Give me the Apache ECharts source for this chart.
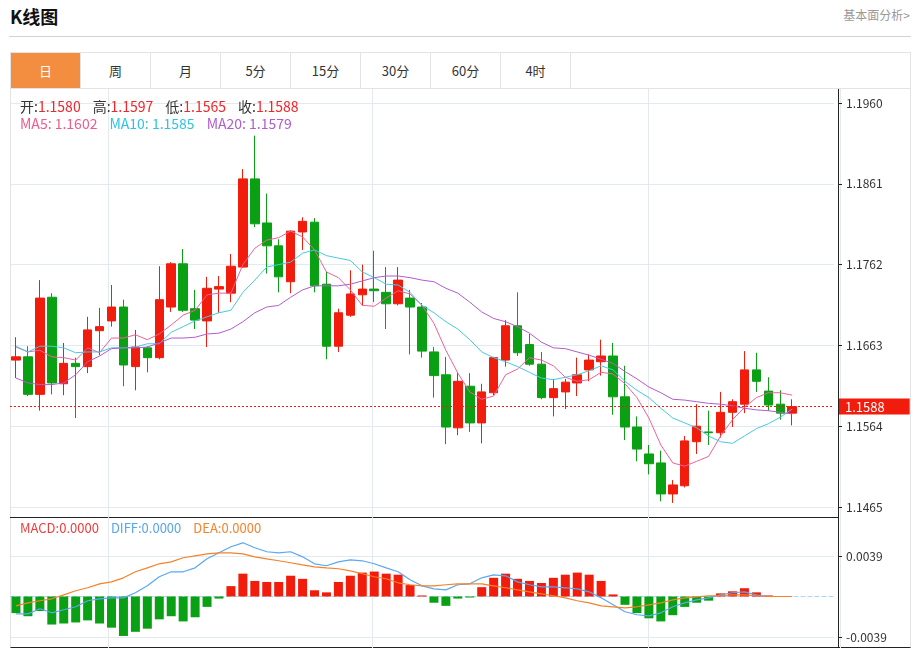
<!DOCTYPE html>
<html>
<head>
<meta charset="utf-8">
<title>K线图</title>
<script src="https://cdn.jsdelivr.net/npm/echarts@6/dist/echarts.min.js"></script>
<style>
body{margin:0;background:#fff;font-family:"Noto Sans CJK SC","Noto Sans",sans-serif;color:#333;}
#page{position:relative;width:913px;height:650px;overflow:hidden;}
.title{position:absolute;left:10px;top:2px;font-size:18px;font-weight:bold;color:#111;line-height:28px;}
.more{position:absolute;right:3px;top:6px;font-size:12px;color:#999;line-height:18px;}
.hr{position:absolute;left:9px;top:36px;width:902px;height:1px;background:#d2d2d2;}
.tabs{position:absolute;left:10px;top:52px;width:899px;height:35px;border:1px solid #e3e3e3;}
.tab{float:left;width:69px;height:35px;line-height:35px;text-align:center;font-size:13px;border-right:1px solid #e3e3e3;}
.tab.on{background:#f38d3f;color:#fff;}
.box{position:absolute;left:10px;top:88px;width:899px;height:559px;border-left:1px solid #e3e3e3;border-right:1px solid #e3e3e3;border-bottom:1px solid #222;}
.sep{position:absolute;left:10px;top:517px;width:828px;height:1px;background:#222;}
.axisline{position:absolute;left:838px;top:89px;width:1px;height:559px;background:#222;}
#chart{position:absolute;left:10px;top:89px;width:901px;height:559px;}
.info{position:absolute;left:20px;font-size:14px;line-height:18px;white-space:nowrap;z-index:5;}
.info span{margin-right:12px;}
#info3{font-size:13px;}
</style>
</head>
<body>
<div id="page">
  <div class="title">K线图</div>
  <div class="more">基本面分析&gt;</div>
  <div class="hr"></div>
  <div class="tabs">
    <div class="tab on">日</div><div class="tab">周</div><div class="tab">月</div><div class="tab">5分</div>
    <div class="tab">15分</div><div class="tab">30分</div><div class="tab">60分</div><div class="tab">4时</div>
  </div>
  <div class="box"></div>
  <div class="sep"></div>
  <div class="axisline"></div>
  <div id="chart"></div>
  <div class="info" id="info1" style="top:97px"></div>
  <div class="info" id="info2" style="top:114px"></div>
  <div class="info" id="info3" style="top:519px"></div>
</div>
<script>
var slotCount = 69;          // 66 bars + 3 empty slots on the right
var monthStarts = [8, 30, 53];

var opens  = [1.1645,1.1649,1.1603,1.1722,1.1616,1.1641,1.1637,1.1681,1.1693,1.1710,1.1637,1.1660,1.1648,1.1710,1.1763,1.1708,1.1693,1.1732,1.1727,1.1759,1.1867,1.1813,1.1785,1.1741,1.1802,1.1814,1.1738,1.1662,1.1700,1.1725,1.1732,1.1728,1.1714,1.1721,1.1710,1.1655,1.1627,1.1562,1.1613,1.1568,1.1605,1.1645,1.1687,1.1664,1.1640,1.1599,1.1606,1.1617,1.1633,1.1643,1.1650,1.1600,1.1563,1.1530,1.1519,1.1481,1.1491,1.1545,1.1557,1.1556,1.1581,1.1591,1.1633,1.1607,1.1591,1.1580];
var closes = [1.1649,1.1603,1.1721,1.1617,1.1641,1.1637,1.1682,1.1686,1.1710,1.1639,1.1661,1.1648,1.1719,1.1763,1.1706,1.1694,1.1733,1.1735,1.1760,1.1867,1.1812,1.1785,1.1747,1.1803,1.1815,1.1736,1.1662,1.1703,1.1726,1.1732,1.1730,1.1714,1.1743,1.1710,1.1656,1.1626,1.1563,1.1619,1.1568,1.1606,1.1648,1.1687,1.1654,1.1640,1.1599,1.1610,1.1618,1.1627,1.1645,1.1650,1.1600,1.1563,1.1536,1.1518,1.1481,1.1492,1.1546,1.1564,1.1556,1.1581,1.1594,1.1633,1.1619,1.1590,1.1580,1.1588];
var lows   = [1.1623,1.1601,1.1583,1.1603,1.1602,1.1574,1.1629,1.1651,1.1686,1.1613,1.1608,1.1630,1.1646,1.1704,1.1704,1.1683,1.1661,1.1703,1.1716,1.1758,1.1808,1.1751,1.1728,1.1727,1.1780,1.1728,1.1646,1.1655,1.1698,1.1712,1.1716,1.1683,1.1712,1.1652,1.1648,1.1599,1.1542,1.1553,1.1557,1.1543,1.1602,1.1637,1.1650,1.1638,1.1597,1.1576,1.1585,1.1601,1.1619,1.1626,1.1578,1.1547,1.1521,1.1505,1.1472,1.1470,1.1489,1.1530,1.1541,1.1550,1.1563,1.1580,1.1606,1.1583,1.1572,1.1565];
var highs  = [1.1673,1.1662,1.1743,1.1727,1.1666,1.1648,1.1698,1.1709,1.1737,1.1719,1.1682,1.1662,1.1760,1.1765,1.1781,1.1731,1.1747,1.1748,1.1775,1.1879,1.1920,1.1849,1.1793,1.1804,1.1820,1.1819,1.1753,1.1708,1.1755,1.1762,1.1779,1.1759,1.1759,1.1731,1.1715,1.1661,1.1649,1.1630,1.1629,1.1616,1.1649,1.1694,1.1728,1.1677,1.1655,1.1622,1.1622,1.1648,1.1652,1.1670,1.1666,1.1638,1.1576,1.1541,1.1534,1.1498,1.1552,1.1591,1.1583,1.1606,1.1597,1.1656,1.1654,1.1624,1.1608,1.1597];

var ma5  = [1.1661,1.1655,1.1657,1.1649,1.1648,1.1645,1.1660,1.1654,1.1672,1.1672,1.1676,1.1670,1.1677,1.1688,1.1700,1.1706,1.1725,1.1727,1.1727,1.1762,1.1782,1.1792,1.1795,1.1803,1.1796,1.1780,1.1753,1.1746,1.1731,1.1712,1.1711,1.1721,1.1730,1.1726,1.1712,1.1690,1.1657,1.1629,1.1606,1.1597,1.1601,1.1627,1.1634,1.1648,1.1645,1.1638,1.1624,1.1619,1.1621,1.1630,1.1628,1.1616,1.1599,1.1574,1.1541,1.1519,1.1515,1.1521,1.1527,1.1552,1.1572,1.1587,1.1599,1.1605,1.1605,1.1602];
var ma10 = [1.1662,1.1655,1.1662,1.1662,1.1660,1.1654,1.1655,1.1655,1.1660,1.1660,1.1661,1.1665,1.1665,1.1679,1.1686,1.1693,1.1698,1.1703,1.1706,1.1728,1.1743,1.1759,1.1762,1.1765,1.1776,1.1780,1.1773,1.1770,1.1767,1.1753,1.1746,1.1738,1.1737,1.1728,1.1712,1.1703,1.1692,1.1683,1.1670,1.1655,1.1648,1.1643,1.1637,1.1630,1.1623,1.1621,1.1624,1.1627,1.1632,1.1638,1.1633,1.1619,1.1608,1.1599,1.1586,1.1574,1.1568,1.1562,1.1552,1.1545,1.1543,1.1552,1.1561,1.1567,1.1575,1.1585];
var ma20 = [1.1623,1.1617,1.1615,1.1615,1.1617,1.1627,1.1643,1.1650,1.1659,1.1660,1.1660,1.1661,1.1666,1.1672,1.1672,1.1673,1.1677,1.1678,1.1683,1.1692,1.1703,1.1710,1.1712,1.1722,1.1731,1.1736,1.1736,1.1736,1.1738,1.1742,1.1746,1.1748,1.1748,1.1746,1.1743,1.1741,1.1733,1.1727,1.1716,1.1704,1.1696,1.1692,1.1686,1.1678,1.1667,1.1660,1.1659,1.1655,1.1651,1.1646,1.1641,1.1631,1.1622,1.1612,1.1605,1.1597,1.1596,1.1594,1.1592,1.1591,1.1589,1.1586,1.1584,1.1583,1.1581,1.1579];

var diff = [-0.00167,-0.00167,-0.00118,-0.00157,-0.00128,-0.00099,-0.00041,-0.00022,-0.00013,-0.00013,0.00036,0.00103,0.00190,0.00238,0.00238,0.00276,0.00363,0.00421,0.00479,0.00517,0.00469,0.00431,0.00421,0.00431,0.00382,0.00315,0.00296,0.00334,0.00353,0.00344,0.00315,0.00276,0.00238,0.00161,0.00103,0.00074,0.00064,0.00113,0.00122,0.00180,0.00209,0.00199,0.00141,0.00113,0.00093,0.00093,0.00084,0.00074,0.00045,-0.00013,-0.00080,-0.00147,-0.00176,-0.00186,-0.00157,-0.00099,-0.00061,-0.00032,-0.00013,0.00016,0.00036,0.00045,0.00016,0,0,0];
var dea  = [-0.00090,-0.00061,-0.00041,-0.00022,0.00016,0.00055,0.00084,0.00122,0.00141,0.00180,0.00238,0.00276,0.00315,0.00334,0.00373,0.00392,0.00411,0.00421,0.00421,0.00411,0.00382,0.00363,0.00344,0.00325,0.00305,0.00286,0.00276,0.00267,0.00247,0.00219,0.00190,0.00171,0.00132,0.00113,0.00103,0.00103,0.00113,0.00122,0.00122,0.00122,0.00103,0.00084,0.00064,0.00045,0.00026,0.00007,-0.00013,-0.00041,-0.00061,-0.00090,-0.00099,-0.00109,-0.00099,-0.00080,-0.00061,-0.00032,-0.00013,-0.00003,0.00007,0.00007,0.00016,0.00016,0.00007,0,0,0];
var macd = [-0.0016,-0.0019,-0.0014,-0.0027,-0.0026,-0.0025,-0.0023,-0.0026,-0.0030,-0.0038,-0.0034,-0.0031,-0.0022,-0.0019,-0.0024,-0.0020,-0.0010,-0.0002,0.0010,0.0022,0.0015,0.0014,0.0014,0.0020,0.0017,0.0006,0.0004,0.0014,0.0020,0.0023,0.0024,0.0022,0.0021,0.0011,0.0001,-0.0006,-0.0009,-0.0002,-0.0001,0.0009,0.0018,0.0022,0.0017,0.0015,0.0013,0.0018,0.0021,0.0023,0.0021,0.0015,0.0002,-0.0008,-0.0016,-0.0021,-0.0024,-0.0018,-0.0010,-0.0006,-0.0004,0.0003,0.0005,0.0008,0.0004,0.0001,0,0];

var priceTicks = {min: 1.1465, max: 1.1960, step: 0.0099};
var macdTicks = [-0.0039, 0.0039];

var upColor = '#f21c0c';
var downColor = '#0aa013';
var gridLineColor = '#e2eaf0';

var categories = [];
for (var i = 0; i < slotCount; i++) {
    categories.push(String(i + 1));
}
var candleData = [];
for (var i = 0; i < opens.length; i++) {
    candleData.push([opens[i], closes[i], lows[i], highs[i]]);
}
var last = opens.length - 1;

function f4(v) { return v.toFixed(4); }
function item(label, value, labelColor, valueColor) {
    return '<span><b style="font-weight:normal;color:' + labelColor + '">' + label + '</b>' +
        '<b style="font-weight:normal;color:' + valueColor + '">' + value + '</b></span>';
}
document.getElementById('info1').innerHTML =
    item('开:', f4(opens[last]), '#333', '#f2252a') +
    item('高:', f4(highs[last]), '#333', '#f2252a') +
    item('低:', f4(lows[last]), '#333', '#f2252a') +
    item('收:', f4(closes[last]), '#333', '#f2252a');
document.getElementById('info2').innerHTML =
    item('MA5: ', f4(ma5[last]), '#ef5b8e', '#ef5b8e') +
    item('MA10: ', f4(ma10[last]), '#2fc4de', '#2fc4de') +
    item('MA20: ', f4(ma20[last]), '#b25ccc', '#b25ccc');
document.getElementById('info3').innerHTML =
    item('MACD:', f4(macd[last]), '#f03c3c', '#f03c3c') +
    item('DIFF:', f4(diff[last]), '#55a6ee', '#55a6ee') +
    item('DEA:', f4(dea[last]), '#f5832b', '#f5832b');

var myChart = echarts.init(document.getElementById('chart'));

var rightTick = {show: true, inside: false, length: 4, lineStyle: {color: '#222'}};
var rightLabel = {color: '#333', fontSize: 12, margin: 8, fontFamily: 'Noto Sans CJK SC'};

option = {
    animation: false,
    grid: [
        {left: -4, top: 14, width: 828, height: 404},
        {left: -4, top: 467, width: 828, height: 81},
        {left: 2, top: 0, width: 828, height: 559}
    ],
    xAxis: [
        {type: 'category', gridIndex: 0, data: categories, show: false},
        {
            type: 'category', gridIndex: 1, data: categories,
            axisLine: {onZero: true, lineStyle: {color: '#a9d8f0', type: [4, 3], width: 1}},
            axisTick: {show: false},
            axisLabel: {show: false},
            splitLine: {show: false}
        },
        {
            type: 'category', gridIndex: 2, data: categories,
            axisLine: {show: false},
            axisTick: {show: false},
            axisLabel: {show: false},
            splitLine: {
                show: true,
                interval: function (index) { return monthStarts.indexOf(index) >= 0; },
                lineStyle: {color: gridLineColor}
            }
        }
    ],
    yAxis: [
        {
            type: 'value', gridIndex: 0, position: 'right', offset: 4,
            min: priceTicks.min, max: priceTicks.max, interval: priceTicks.step,
            axisLine: {show: false},
            axisTick: rightTick,
            axisLabel: Object.assign({formatter: function (v) { return v.toFixed(4); }}, rightLabel),
            splitLine: {lineStyle: {color: gridLineColor}}
        },
        {
            type: 'value', gridIndex: 1, position: 'right', offset: 4,
            min: macdTicks[0], max: macdTicks[1], interval: macdTicks[1],
            axisLine: {show: false},
            axisTick: Object.assign({customValues: macdTicks}, rightTick),
            axisLabel: Object.assign({customValues: macdTicks, formatter: function (v) { return v.toFixed(4); }}, rightLabel),
            splitLine: {lineStyle: {color: gridLineColor}}
        },
        {type: 'value', gridIndex: 2, show: false}
    ],
    series: [
        {
            name: 'K',
            type: 'candlestick',
            xAxisIndex: 0,
            yAxisIndex: 0,
            barWidth: 9,
            data: candleData,
            itemStyle: {
                color: upColor,
                color0: downColor,
                borderColor: upColor,
                borderColor0: downColor,
                borderWidth: 1
            },
            markLine: {
                silent: true,
                precision: 4,
                symbol: ['none', 'none'],
                data: [{yAxis: closes[last]}],
                lineStyle: {color: upColor, type: [2, 2], width: 1},
                label: {
                    position: 'end',
                    distance: 5,
                    formatter: f4(closes[last]),
                    color: '#fff',
                    backgroundColor: upColor,
                    fontSize: 13,
                    fontFamily: 'Noto Sans CJK SC',
                    padding: [2, 25, 1, 6]
                }
            }
        },
        {
            name: 'MA5', type: 'line', xAxisIndex: 0, yAxisIndex: 0, data: ma5,
            symbol: 'none', lineStyle: {width: 1, color: '#f0609a'}
        },
        {
            name: 'MA10', type: 'line', xAxisIndex: 0, yAxisIndex: 0, data: ma10,
            symbol: 'none', lineStyle: {width: 1, color: '#45c9e2'}
        },
        {
            name: 'MA20', type: 'line', xAxisIndex: 0, yAxisIndex: 0, data: ma20,
            symbol: 'none', lineStyle: {width: 1, color: '#b25ccc'}
        },
        {
            name: 'MACD', type: 'bar', xAxisIndex: 1, yAxisIndex: 1, data: macd,
            barWidth: 9,
            itemStyle: {
                color: function (p) { return p.value >= 0 ? upColor : downColor; }
            }
        },
        {
            name: 'DIFF', type: 'line', xAxisIndex: 1, yAxisIndex: 1, data: diff,
            symbol: 'none', clip: false, lineStyle: {width: 1.2, color: '#5aa8f0'}
        },
        {
            name: 'DEA', type: 'line', xAxisIndex: 1, yAxisIndex: 1, data: dea,
            symbol: 'none', clip: false, lineStyle: {width: 1.2, color: '#f5822a'}
        }
    ]
};
myChart.setOption(option);

window.onresize = function () {
    myChart.resize();
};
</script>
</body>
</html>
